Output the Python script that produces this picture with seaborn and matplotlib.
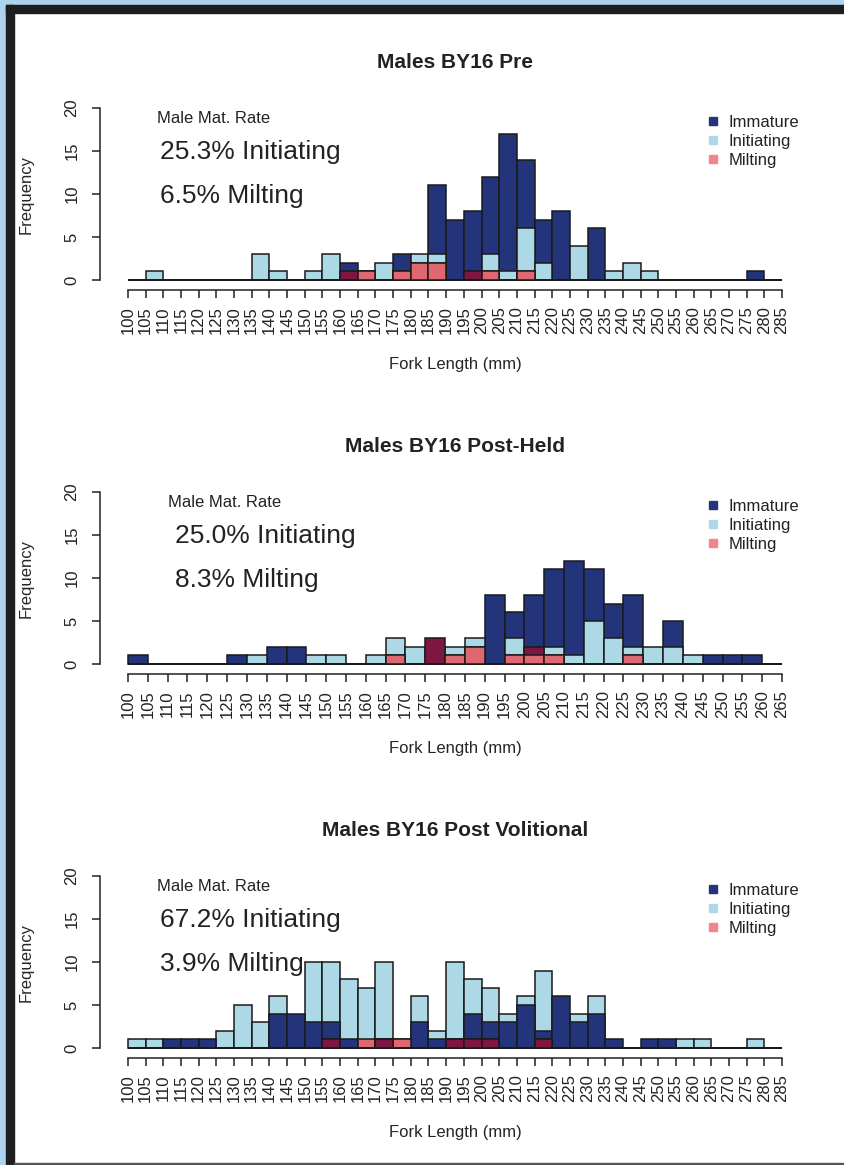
import numpy as np
import pandas as pd
import matplotlib
matplotlib.use('Agg')
import matplotlib.pyplot as plt
from matplotlib.lines import Line2D
from matplotlib.patches import Rectangle
import seaborn as sns

# Panel titles and maturation rates
titles = ['Males BY16 Pre', 'Males BY16 Post-Held', 'Males BY16 Post Volitional']
init_text = ['25.3% Initiating', '25.0% Initiating', '67.2% Initiating']
milt_text = ['6.5% Milting', '8.3% Milting', '3.9% Milting']
x_max = [285, 265, 285]

# Bin counts (5 mm bins starting at 100 mm), visible layer heights
pre_immature = [0, 0, 0, 0, 0, 0, 0, 0, 0, 0, 0, 0, 2, 0, 0, 3, 0, 11, 7, 8, 12, 17, 14, 7, 8, 0, 6, 0, 0, 0, 0, 0, 0, 0, 0, 1, 0]
pre_initiating = [0, 1, 0, 0, 0, 0, 0, 3, 1, 0, 1, 3, 0, 1, 2, 1, 3, 3, 0, 0, 3, 1, 6, 2, 0, 4, 0, 1, 2, 1, 0, 0, 0, 0, 0, 0, 0]
pre_milting = [0, 0, 0, 0, 0, 0, 0, 0, 0, 0, 0, 0, 1, 1, 0, 1, 2, 2, 0, 1, 1, 0, 1, 0, 0, 0, 0, 0, 0, 0, 0, 0, 0, 0, 0, 0, 0]

held_immature = [1, 0, 0, 0, 0, 1, 0, 2, 2, 0, 0, 0, 0, 0, 0, 0, 0, 0, 8, 6, 8, 11, 12, 11, 7, 8, 0, 5, 0, 1, 1, 1, 0]
held_initiating = [0, 0, 0, 0, 0, 0, 1, 0, 0, 1, 1, 0, 1, 3, 2, 0, 2, 3, 0, 3, 1, 2, 1, 5, 3, 2, 2, 2, 1, 0, 0, 0, 0]
held_milting = [0, 0, 0, 0, 0, 0, 0, 0, 0, 0, 0, 0, 0, 1, 0, 3, 1, 2, 0, 1, 2, 1, 0, 0, 0, 1, 0, 0, 0, 0, 0, 0, 0]

vol_immature = [0, 0, 1, 1, 1, 0, 0, 0, 4, 4, 3, 3, 1, 0, 1, 0, 3, 1, 1, 4, 3, 3, 5, 2, 6, 3, 4, 1, 0, 1, 1, 0, 0, 0, 0, 0, 0]
vol_initiating = [1, 1, 0, 0, 0, 2, 5, 3, 6, 0, 10, 10, 8, 7, 10, 1, 6, 2, 10, 8, 7, 4, 6, 9, 0, 4, 6, 0, 0, 0, 0, 1, 1, 0, 0, 1, 0]
vol_milting = [0, 0, 0, 0, 0, 0, 0, 0, 0, 0, 0, 1, 0, 1, 1, 1, 0, 0, 1, 1, 1, 0, 0, 1, 0, 0, 0, 0, 0, 0, 0, 0, 0, 0, 0, 0, 0]

navy = '#23347a'
light = '#add8e6'
salmon = '#f4838a'
pink = '#de6872'
maroon = '#7e1642'

sns.set_theme(style='white')
plt.rcParams['font.family'] = ['Liberation Sans', 'DejaVu Sans']
plt.rcParams['text.color'] = '#222222'

fig = plt.figure(figsize=(8.45, 11.65), dpi=100)

W, H = 845, 1165
baselines = [280, 664, 1048]


def layer(ax, edges, counts, color):
    df = pd.DataFrame({'fl': edges[:-1] + 2.5, 'n': np.asarray(counts, dtype=float)})
    sns.histplot(data=df, x='fl', weights='n', bins=[float(e) for e in edges], color=color,
                 alpha=1, edgecolor='#1a1a1a', linewidth=1.1, ax=ax, clip_on=False)


panels = [
    (pre_immature, pre_initiating, pre_milting, 'navy_first'),
    (held_immature, held_initiating, held_milting, 'navy_first'),
    (vol_immature, vol_initiating, vol_milting, 'light_first'),
]

for i, (imm, ini, mil, order) in enumerate(panels):
    base = baselines[i]
    ax = fig.add_axes([128 / W, (H - base) / H, 654 / W, 172 / H])
    edges = np.arange(100, x_max[i] + 1, 5)
    mil = np.asarray(mil)
    # overlaid histograms; milting overlay tinted by what lies beneath it
    if order == 'navy_first':
        layer(ax, edges, imm, navy)
        layer(ax, edges, ini, light)
        layer(ax, edges, mil, maroon)
        layer(ax, edges, np.minimum(mil, ini), pink)
    else:
        layer(ax, edges, ini, light)
        layer(ax, edges, imm, navy)
        layer(ax, edges, mil, pink)
        layer(ax, edges, np.minimum(mil, imm), maroon)

    ax.set_xlim(100, x_max[i])
    ax.set_ylim(0, 20)
    ax.set_xticks(edges)
    ax.set_xticklabels([str(v) for v in edges])
    ax.set_yticks([0, 5, 10, 15, 20])
    ax.set_yticklabels(['0', '5', '10', '15', '20'])
    for s in ['top', 'right']:
        ax.spines[s].set_visible(False)
    ax.spines['left'].set_position(('outward', 20))
    ax.spines['bottom'].set_position(('outward', 7))
    ax.spines['left'].set_bounds(0, 20)
    ax.spines['bottom'].set_bounds(100, x_max[i])
    for s in ['left', 'bottom']:
        ax.spines[s].set_color('#222222')
        ax.spines[s].set_linewidth(1.1)
    ax.tick_params(axis='both', direction='out', length=6, width=1.1, color='#222222',
                   labelcolor='#222222', labelsize=12, bottom=True, left=True)
    ax.tick_params(axis='x', pad=6, labelrotation=90)
    ax.tick_params(axis='y', pad=9, labelrotation=90)
    for lab in ax.get_yticklabels():
        lab.set_verticalalignment('center')

    ax.set_xlabel('Fork Length (mm)', fontsize=12)
    ax.xaxis.set_label_coords(0.5, -0.45)
    ax.set_ylabel('Frequency', fontsize=12)
    ax.yaxis.set_label_coords(-0.145, 0.5)

    ax.text(0.5, 1.267, titles[i], transform=ax.transAxes, ha='center', va='center',
            fontsize=15, fontweight='bold')

    tx = 108.2 if x_max[i] == 285 else 110.1
    tx2 = 109.0 if x_max[i] == 285 else 111.9
    ax.text(tx, 18.8, 'Male Mat. Rate', ha='left', va='center', fontsize=12)
    ax.text(tx2, 14.9, init_text[i], ha='left', va='center', fontsize=19)
    ax.text(tx2, 9.8, milt_text[i], ha='left', va='center', fontsize=19)

    handles = [Line2D([], [], marker='s', linestyle='none', markersize=6, color=c)
               for c in [navy, light, salmon]]
    ax.legend(handles, ['Immature', 'Initiating', 'Milting'], loc='upper left',
              bbox_to_anchor=(0.885, 0.962), frameon=False, fontsize=12,
              handlelength=0.8, handletextpad=0.5, borderpad=0, borderaxespad=0,
              labelspacing=0.26)

# window frame
fig.add_artist(Rectangle((0, 0), 6 / W, 1, transform=fig.transFigure, color='#aed3ee', zorder=10))
fig.add_artist(Rectangle((0, 1 - 5 / H), 1, 5 / H, transform=fig.transFigure, color='#aed3ee', zorder=10))
fig.add_artist(Rectangle((6 / W, 0), 8 / W, 1 - 5 / H, transform=fig.transFigure, color='#1e1e1e', zorder=10))
fig.add_artist(Rectangle((6 / W, 1 - 13 / H), 1 - 6 / W, 8 / H, transform=fig.transFigure, color='#1e1e1e', zorder=10))
fig.add_artist(Rectangle((14 / W, 0), 1 - 14 / W, 2 / H, transform=fig.transFigure, color='#555555', zorder=10))

fig.savefig('out.png', dpi=100)
